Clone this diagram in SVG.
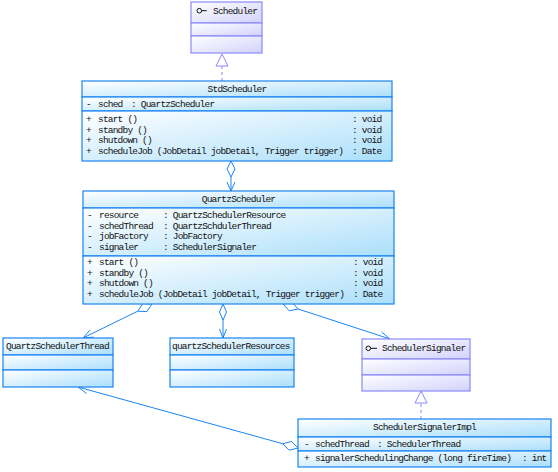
<svg xmlns="http://www.w3.org/2000/svg" width="558" height="472" viewBox="0 0 558 472">
<defs>
<linearGradient id="gc" x1="0" y1="0" x2="1" y2="1">
<stop offset="0" stop-color="#ffffff"/>
<stop offset="1" stop-color="#abdffb"/>
</linearGradient>
<linearGradient id="gi" x1="0" y1="0" x2="1" y2="1">
<stop offset="0" stop-color="#ffffff"/>
<stop offset="1" stop-color="#d2d2fc"/>
</linearGradient>
</defs>
<style>
.c{fill:url(#gc);stroke:#1a84f2;stroke-width:1.2}
.i{fill:url(#gi);stroke:#8a8af8;stroke-width:1.2}
text{font-family:"Liberation Mono",monospace;font-size:9.5px;letter-spacing:-0.8px;fill:#111111}
.t{text-anchor:middle}
.ln{fill:none;stroke:#1a84f2;stroke-width:1}
.dn{fill:none;stroke:#8a8af8;stroke-width:1;stroke-dasharray:3,3}
.dm{fill:#ffffff;stroke:#1a84f2;stroke-width:1}
.tri{fill:#ffffff;stroke:#8a8af8;stroke-width:1}
</style>

<g id="connectors">
<line class="dn" x1="222" y1="81" x2="222" y2="66"/>
<polygon class="tri" points="222,54 216,66 228,66"/>
<line class="ln" x1="231" y1="177" x2="231" y2="191"/>
<polyline class="ln" points="227,182 231,191 235,182"/>
<polygon class="dm" points="231,161 235,169 231,177 227,169"/>
<line class="ln" x1="137.7" y1="311.2" x2="83" y2="338"/>
<polyline class="ln" points="93.7,337.1 83,338 90.1,329.9"/>
<polygon class="dm" points="152,304 146.9,311.6 137.7,311.2 142.8,303.6"/>
<line class="ln" x1="223" y1="320" x2="223" y2="338"/>
<polyline class="ln" points="219.5,329 223,338 226.5,329"/>
<polygon class="dm" points="223,304 226.5,312 223,320 219.5,312"/>
<line class="ln" x1="298.2" y1="309" x2="390" y2="339"/>
<polyline class="ln" points="379.3,339.7 390,339 381.7,332.1"/>
<polygon class="dm" points="283,304 292,302.2 298.2,309 289.2,310.8"/>
<line class="dn" x1="421" y1="419" x2="421" y2="403"/>
<polygon class="tri" points="421,391 415,403 427,403"/>
<line class="ln" x1="282.6" y1="443.7" x2="78" y2="387"/>
<polyline class="ln" points="88.7,385.8 78,387 86.6,393.5"/>
<polygon class="dm" points="298,448 291.5,441.5 282.6,443.7 289.1,450.2"/>
</g>

<g id="Scheduler">
<rect class="i" x="191" y="2" width="71" height="21"/>
<rect class="i" x="191" y="23" width="71" height="13"/>
<rect class="i" x="191" y="36" width="71" height="17"/>
<circle cx="199.3" cy="10.7" r="2.3" fill="none" stroke="#111111" stroke-width="1"/>
<line x1="201.6" y1="10.7" x2="206.7" y2="10.7" stroke="#111111" stroke-width="1"/>
<text x="213" y="13.5">Scheduler</text>
</g>

<g id="StdScheduler">
<rect class="c" x="82" y="81" width="310" height="16"/>
<rect class="c" x="82" y="97" width="310" height="14"/>
<rect class="c" x="82" y="111" width="310" height="50"/>
<text class="t" x="237" y="92">StdScheduler</text>
<text x="86" y="107">-</text><text x="98" y="107">sched</text><text x="131" y="107">: QuartzScheduler</text>
<text x="86" y="122">+</text><text x="98" y="122">start ()</text><text x="352" y="122">: void</text>
<text x="86" y="132.7">+</text><text x="98" y="132.7">standby ()</text><text x="352" y="132.7">: void</text>
<text x="86" y="143.4">+</text><text x="98" y="143.4">shutdown ()</text><text x="352" y="143.4">: void</text>
<text x="86" y="154">+</text><text x="98" y="154">scheduleJob (JobDetail jobDetail, Trigger trigger)</text><text x="352" y="154">: Date</text>
</g>

<g id="QuartzScheduler">
<rect class="c" x="83" y="191" width="311" height="17"/>
<rect class="c" x="83" y="208" width="311" height="48"/>
<rect class="c" x="83" y="256" width="311" height="48"/>
<text class="t" x="238.5" y="202">QuartzScheduler</text>
<text x="87" y="218">-</text><text x="99" y="218">resource</text><text x="163" y="218">: QuartzSchedulerResource</text>
<text x="87" y="228.5">-</text><text x="99" y="228.5">schedThread</text><text x="163" y="228.5">: QuartzSchdulerThread</text>
<text x="87" y="239">-</text><text x="99" y="239">jobFactory</text><text x="163" y="239">: JobFactory</text>
<text x="87" y="249.5">-</text><text x="99" y="249.5">signaler</text><text x="163" y="249.5">: SchedulerSignaler</text>
<text x="87" y="265">+</text><text x="99" y="265">start ()</text><text x="353" y="265">: void</text>
<text x="87" y="275.5">+</text><text x="99" y="275.5">standby ()</text><text x="353" y="275.5">: void</text>
<text x="87" y="286">+</text><text x="99" y="286">shutdown ()</text><text x="353" y="286">: void</text>
<text x="87" y="296.5">+</text><text x="99" y="296.5">scheduleJob (JobDetail jobDetail, Trigger trigger)</text><text x="353" y="296.5">: Date</text>
</g>

<g id="QuartzSchedulerThread">
<rect class="c" x="3" y="338" width="110" height="17"/>
<rect class="c" x="3" y="355" width="110" height="15"/>
<rect class="c" x="3" y="370" width="110" height="17"/>
<text x="6" y="349">QuartzSchedulerThread</text>
</g>

<g id="quartzSchedulerResources">
<rect class="c" x="170" y="338" width="124" height="17"/>
<rect class="c" x="170" y="355" width="124" height="15"/>
<rect class="c" x="170" y="370" width="124" height="17"/>
<text x="172" y="349">quartzSchedulerResources</text>
</g>

<g id="SchedulerSignaler">
<rect class="i" x="362" y="339" width="108" height="20"/>
<rect class="i" x="362" y="359" width="108" height="16"/>
<rect class="i" x="362" y="375" width="108" height="16"/>
<circle cx="368.3" cy="348.3" r="2.3" fill="none" stroke="#111111" stroke-width="1"/>
<line x1="370.6" y1="348.3" x2="377" y2="348.3" stroke="#111111" stroke-width="1"/>
<text x="382" y="351">SchedulerSignaler</text>
</g>

<g id="SchedulerSignalerImpl">
<rect class="c" x="298" y="419" width="253" height="18"/>
<rect class="c" x="298" y="437" width="253" height="14"/>
<rect class="c" x="298" y="451" width="253" height="16"/>
<text class="t" x="424.5" y="430">SchedulerSignalerImpl</text>
<text x="304" y="447">-</text><text x="315" y="447">schedThread</text><text x="377" y="447">: SchedulerThread</text>
<text x="304" y="461">+</text><text x="315" y="461">signalerSchedulingChange (long fireTime)</text><text x="522" y="461">: int</text>
</g>
</svg>
